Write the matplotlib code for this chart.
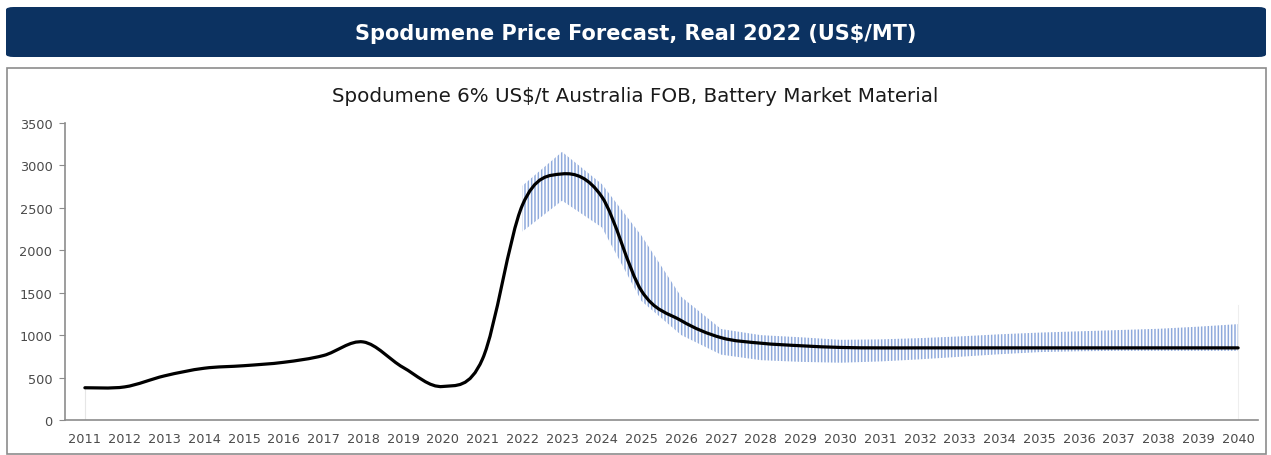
#!/usr/bin/env python
# -*- coding: utf-8 -*-

"""
Spodumene price forecast chart
"""

import numpy as np
from matplotlib import pyplot as plt
from matplotlib.path import Path
from matplotlib.patches import PathPatch, FancyBboxPatch, Rectangle

plt.rcParams['font.family'] = ['DejaVu Sans']
plt.rcParams['hatch.linewidth'] = 1.1

years = list(range(2011, 2041))
price = [380, 390, 520, 610, 640, 680, 760, 920, 620, 395,
         720, 2530, 2900, 2630, 1520, 1170, 970, 905, 875, 855,
         850, 850, 850, 850, 850, 850, 850, 850, 850, 850]

band_years = list(range(2022, 2041))
band_upper = [2760, 3160, 2780, 2170, 1450, 1072, 1000, 975, 945, 950,
              965, 985, 1010, 1030, 1045, 1060, 1075, 1100, 1130]
band_lower = [2220, 2585, 2270, 1400, 1000, 770, 705, 685, 675, 690,
              715, 745, 775, 800, 810, 815, 815, 815, 815]

title = 'Spodumene Price Forecast, Real 2022 (US$/MT)'
subtitle = 'Spodumene 6% US$/t Australia FOB, Battery Market Material'
navy = '#0c3261'
hatch_color = '#8faadc'
grey = '#4a4a4a'


def smooth_path(x, y):
    # catmull-rom segments as cubic bezier (like excel smoothed line)
    pts = np.column_stack([np.asarray(x, float), np.asarray(y, float)])
    n = len(pts)
    verts = [pts[0]]
    codes = [Path.MOVETO]
    for i in range(n - 1):
        p0 = pts[max(i - 1, 0)]
        p1 = pts[i]
        p2 = pts[i + 1]
        p3 = pts[min(i + 2, n - 1)]
        verts += [p1 + (p2 - p0) / 6.0, p2 - (p3 - p1) / 6.0, p2]
        codes += [Path.CURVE4] * 3
    return Path(verts, codes)


fig = plt.figure(figsize=(12.71, 4.56), dpi=100)
W, H = 1271.0, 456.0

# header bar
fig.patches.append(FancyBboxPatch((6 / W, 1 - 58 / H), 1260 / W, 50 / H,
                                  boxstyle='round,pad=0,rounding_size=0.006',
                                  transform=fig.transFigure, facecolor=navy,
                                  edgecolor='none', zorder=-2))
fig.text(0.5, 1 - 34 / H, title, color='white', fontsize=15, fontweight='bold',
         ha='center', va='center')

# chart frame
fig.patches.append(Rectangle((7 / W, 1 - 455 / H), 1259 / W, 386 / H,
                             transform=fig.transFigure, facecolor='white',
                             edgecolor='#8c8c8c', linewidth=1.2, zorder=-2))
fig.text(0.5, 1 - 96 / H, subtitle, color='#1a1a1a', fontsize=14.3,
         ha='center', va='center')

ax = fig.add_axes((65 / W, 1 - 421 / H, 1193 / W, 297 / H))
ax.patch.set_alpha(0)
ax.set_xlim(2010.5, 2040.5)
ax.set_ylim(0, 3500)

# forecast range band, vertical hatching
ax.fill_between(band_years, band_lower, band_upper, facecolor='none',
                edgecolor=hatch_color, hatch='|||||', linewidth=0)

# faint drop lines at the ends
ax.plot([years[0], years[0]], [0, price[0]], color='#e6e6e6', lw=0.8)
ax.plot([years[-1], years[-1]], [0, 1350], color='#eeeeee', lw=0.8)

# price line
ax.add_patch(PathPatch(smooth_path(years, price), facecolor='none',
                       edgecolor='black', linewidth=2.3, capstyle='round',
                       zorder=3))

ax.set_xticks(years)
ax.set_xticklabels([str(y) for y in years])
ax.set_yticks(range(0, 3501, 500))
ax.tick_params(axis='x', length=0, pad=9, labelsize=9.3, labelcolor=grey)
ax.tick_params(axis='y', length=4, width=0.8, color='#8c8c8c', pad=5,
               labelsize=9.3, labelcolor=grey)
for side in ['top', 'right']:
    ax.spines[side].set_visible(False)
for side in ['left', 'bottom']:
    ax.spines[side].set_color('#8c8c8c')
    ax.spines[side].set_linewidth(1.2)

plt.savefig('out.png', dpi=100)
